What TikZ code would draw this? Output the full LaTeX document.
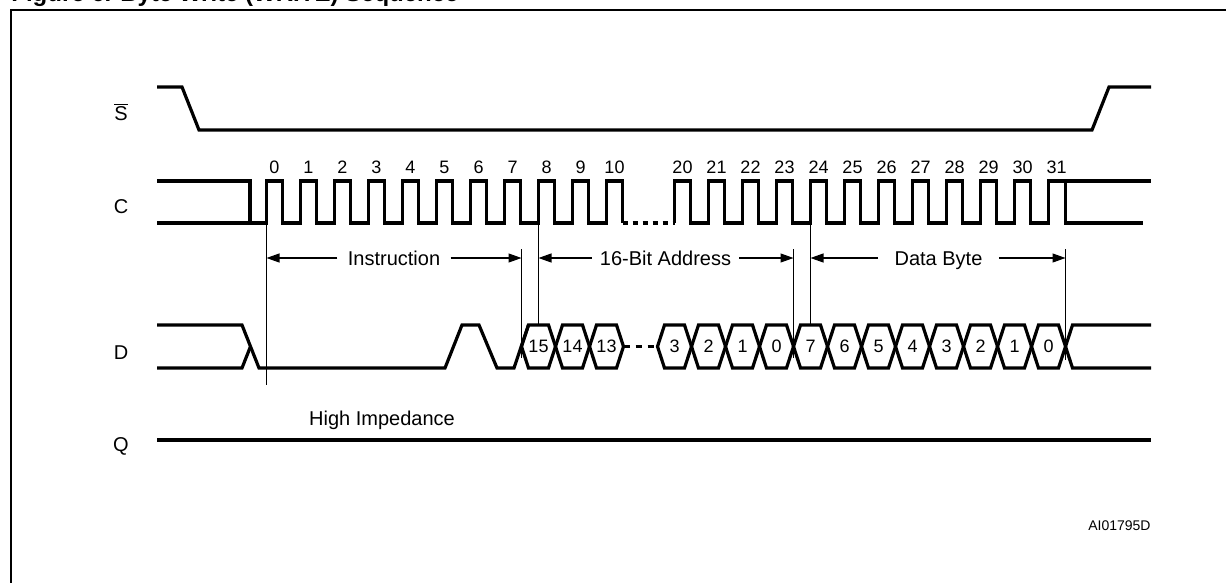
\documentclass[tikz,border=0pt]{standalone}
\usepackage{fontspec}
\setmainfont{Liberation Sans}
\usetikzlibrary{arrows.meta}

\tikzset{
  sig/.style={line width=1.6pt, line join=miter},
  marker/.style={line width=0.6pt},
  dimarrow/.style={line width=0.6pt, -{Triangle[length=6.5pt,width=4.5pt]}},
  dimlabel/.style={font=\fontsize{10}{12}\selectfont, text height=7.2pt, text depth=0pt},
  bitnum/.style={font=\fontsize{9}{11}\selectfont, inner sep=0pt},
  siglabel/.style={font=\fontsize{10}{12}\selectfont, inner sep=0pt},
}

\begin{document}
\begin{tikzpicture}[x=0.5pt, y=-0.5pt]
	\useasboundingbox (0,0) rectangle (1226,583);
	% frame and (cut) title
	\draw[line width=1pt] (11,600) -- (11,10) -- (1240,10);
	\node[anchor=base west, inner sep=0pt, font=\bfseries\fontsize{12}{14}\selectfont] (title) at (11,1.5) {Figure 6. Byte Write (WRITE) Sequence};

	% signal names
	\node[siglabel] (lS) at (121,112) {$\overline{\mbox{S}}$};
	\node[siglabel] (lC) at (121,207) {C};
	\node[siglabel] (lD) at (121,353) {D};
	\node[siglabel] (lQ) at (121,446) {Q};

	% chip select
	\draw[sig] (157,87) -- (182,87) -- (199,130) -- (1092,130) -- (1109,87) -- (1151,87);

	% clock
	\draw[sig] (157,181) -- (250,181) -- (250,223);
	\draw[sig] (157,223) -- (266.5,223)
		\foreach \i in {0,...,9} { -- ++(0,-42) -- ++(16,0) -- ++(0,42) -- ++(18,0) }
		-- ++(0,-42) -- ++(16,0) -- ++(0,42);
	\draw[sig, dash pattern=on 2.5pt off 2.5pt] (622.5,223) -- (674.5,223);
	\draw[sig] (674.5,223)
		\foreach \i in {20,...,30} { -- ++(0,-42) -- ++(16,0) -- ++(0,42) -- ++(18,0) }
		-- ++(0,-42) -- (1151,181);
	\draw[sig] (1065.5,181) -- (1065.5,223) -- (1143,223);
	\foreach \n [count=\i from 0] in {0,...,10}
		\node[bitnum, anchor=base] (c\n) at (274.5+34*\i,173) {\n};
	\foreach \n [count=\i from 12] in {20,...,31}
		\node[bitnum, anchor=base] (c\n) at (274.5+34*\i,173) {\n};

	% timing marks
	\coordinate (m0) at (266.5,258);
	\coordinate (m7) at (521.5,258);
	\coordinate (m8) at (538.5,258);
	\coordinate (m23) at (793.5,258);
	\coordinate (m24) at (810.5,258);
	\coordinate (m31) at (1065.5,258);
	\draw[marker] (266.5,223) -- (266.5,385);
	\draw[marker] (521.5,249) -- (521.5,358);
	\draw[marker] (538.5,223) -- (538.5,325);
	\draw[marker] (793.5,249) -- (793.5,358);
	\draw[marker] (810.5,223) -- (810.5,325);
	\draw[marker] (1065.5,249) -- (1065.5,360);

	\node[dimlabel, inner xsep=5pt] (instr) at (394,258) {Instruction};
	\draw[dimarrow] (instr) -- (m0);
	\draw[dimarrow] (instr) -- (m7);
	\node[dimlabel, inner xsep=4pt] (addr) at (665.5,258) {16-Bit Address};
	\draw[dimarrow] (addr) -- (m8);
	\draw[dimarrow] (addr) -- (m23);
	\node[dimlabel, inner xsep=8pt] (data) at (938.5,258) {Data Byte};
	\draw[dimarrow] (data) -- (m24);
	\draw[dimarrow] (data) -- (m31);

	% data in
	\draw[sig] (157,325) -- (242,325) -- (259,368) -- (445,368) -- (462,325)
		-- (479,325) -- (497,368) -- (514,368) -- (528.5,325);
	\draw[sig] (157,368) -- (242,368) -- (250.5,346.5);
	\foreach \i/\b in {8/15, 9/14, 10/13, 12/3, 13/2, 14/1, 15/0, 16/7,
		17/6, 18/5, 19/4, 20/3, 21/2, 22/1, 23/0} {
		\draw[sig] (249.5+34*\i,346.5) -- ++(7,-21.5) -- ++(20,0) -- ++(7,21.5)
			-- ++(-7,21.5) -- ++(-20,0) -- cycle;
		\node[bitnum] (d\i) at (266.5+34*\i,346.5) {\b};
	}
	\draw[sig, dash pattern=on 3pt off 3pt] (623.5,346.5) -- (657.5,346.5);
	\draw[sig] (1065.5,346.5) -- (1072.5,325) -- (1151,325);
	\draw[sig] (1065.5,346.5) -- (1072.5,368) -- (1151,368);

	% data out
	\node[siglabel, anchor=base] (hiz) at (382,425) {High Impedance};
	\draw[sig] (157,440) -- (1151,440);

	\node[anchor=base east, inner sep=0pt, font=\fontsize{7}{8}\selectfont] (ref) at (1151,530) {AI01795D};
\end{tikzpicture}
\end{document}
